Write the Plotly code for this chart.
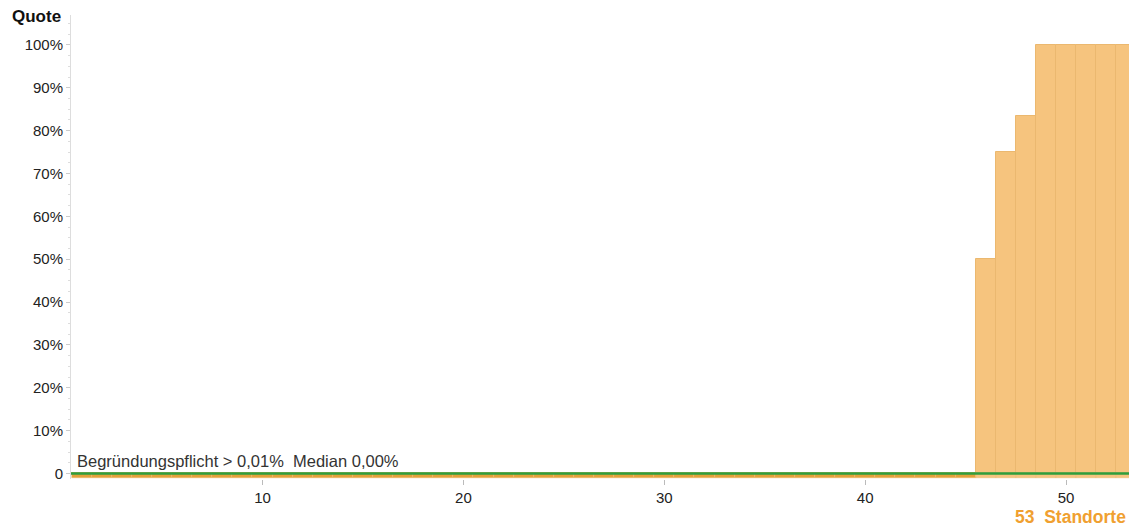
import plotly.graph_objects as go

sites = list(range(1, 54))
quote = [0.0] * 45 + [50.0, 75.0, 83.33, 100.0, 100.0, 100.0, 100.0, 100.0]
median = 0.0
threshold = 0.01
y_ticks = [0, 10, 20, 30, 40, 50, 60, 70, 80, 90, 100]
y_labels = ["0"] + [f"{v}%" for v in y_ticks[1:]]
x_ticks = [10, 20, 30, 40, 50]

LIGHT = "#F6C47E"
EDGE = "#EBB86F"
DARK = "#E3A13A"
GREEN = "#2E9E3E"
TXT = "#333333"

fig = go.Figure()
fig.add_trace(go.Bar(
    x=sites, y=quote, width=1.0,
    marker=dict(color=LIGHT, line=dict(color=EDGE, width=1)),
    showlegend=False, hoverinfo="x+y"))
stub_col = [DARK if v == 0 else LIGHT for v in quote]
fig.add_trace(go.Bar(
    x=sites, y=[-1.15] * len(sites), width=1.0,
    marker=dict(color=stub_col, line=dict(color=EDGE, width=0.5)),
    showlegend=False, hoverinfo="skip"))
fig.add_trace(go.Scatter(
    x=[0.3, 53.5], y=[median, median], mode="lines",
    line=dict(color=GREEN, width=2.5), showlegend=False, hoverinfo="skip"))

fig.update_layout(
    width=1129, height=527,
    margin=dict(l=71, r=0, t=15, b=48),
    paper_bgcolor="white", plot_bgcolor="white",
    barmode="overlay", bargap=0,
    font=dict(family="Liberation Sans, Arial, sans-serif", size=15, color=TXT),
    xaxis=dict(range=[0.47, 53.13], tickvals=x_ticks, ticks="outside",
               ticklen=5, tickcolor="#BBBBBB", showgrid=False, zeroline=False,
               showline=False, tickfont=dict(size=15, color="#222222")),
    yaxis=dict(range=[-1.3, 107], tickvals=y_ticks, ticktext=y_labels,
               ticks="outside", ticklen=4, tickcolor="#CCCCCC",
               showline=True, linecolor="#DDDDDD", linewidth=1,
               showgrid=False, zeroline=False,
               minor=dict(dtick=2.5, ticks="outside", ticklen=2, tickcolor="#DDDDDD"),
               tickfont=dict(size=15, color="#222222")),
    annotations=[
        dict(text="<b>Quote</b>", xref="paper", yref="paper", x=-0.0076, y=1.0,
             xanchor="right", yanchor="middle", showarrow=False,
             font=dict(size=17, color="#111111"), yshift=-1),
        dict(text=f"Begründungspflicht > {threshold:.2f}%  Median {median:.2f}%".replace(".", ","),
             xref="x", yref="y", x=0.65, y=2.9, xanchor="left", yanchor="middle",
             showarrow=False, font=dict(size=16.5, color=TXT)),
        dict(text=f"<b>{len(sites)}  Standorte</b>", xref="paper", yref="paper",
             x=1.0, y=0, xshift=-1, yshift=-38, xanchor="right", yanchor="middle",
             showarrow=False, font=dict(size=17.5, color="#F0A030")),
    ],
)
fig.write_html("out.html", config={"displayModeBar": False},
               post_script="document.body.style.margin='0px';")
